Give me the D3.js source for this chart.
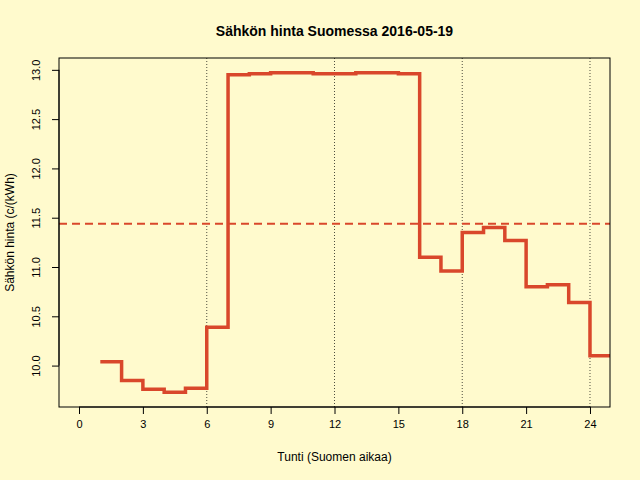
<!DOCTYPE html>
<html><head><meta charset="utf-8">
<script src="https://cdn.jsdelivr.net/npm/d3@7"></script>
<style>body{margin:0;background:#fffacd}</style></head>
<body><script>
const hours=[1,2,3,4,5,6,7,8,9,10,11,12,13,14,15,16,17,18,19,20,21,22,23,24];
const prices=[10.04,9.85,9.76,9.73,9.77,10.39,12.95,12.96,12.97,12.97,12.96,12.96,12.97,12.97,12.96,11.10,10.96,11.35,11.40,11.27,10.80,10.82,10.64,10.10];
const meanPrice=11.44;
const xTicks=[0,3,6,9,12,15,18,21,24];
const yTicks=[10.0,10.5,11.0,11.5,12.0,12.5,13.0];
const vLines=[6,12,18,24];
const W=640,H=480,L=59,R=610,T=58,B=407;
const svg=d3.select("body").append("svg").attr("width",W).attr("height",H).style("background","#fffacd");
const x=d3.scaleLinear().domain([-0.94,24.94]).range([L,R]);
const y=d3.scaleLinear().domain([9.58,13.12]).range([B,T]);
const f="Liberation Sans, Arial, sans-serif";
svg.append("text").attr("x",(L+R)/2).attr("y",36).attr("text-anchor","middle").attr("font-family",f).attr("font-size",14).attr("font-weight","bold").text("Sähkön hinta Suomessa 2016-05-19");
const clip=svg.append("clipPath").attr("id","c").append("rect").attr("x",L).attr("y",T).attr("width",R-L).attr("height",B-T);
const g=svg.append("g").attr("clip-path","url(#c)");
vLines.forEach(v=>g.append("line").attr("x1",x(v)).attr("x2",x(v)).attr("y1",T).attr("y2",B).attr("stroke","#000").attr("stroke-width",0.7).attr("stroke-dasharray","1,2"));
g.append("line").attr("x1",L).attr("x2",R).attr("y1",y(meanPrice)).attr("y2",y(meanPrice)).attr("stroke","#d9472b").attr("stroke-width",2).attr("stroke-dasharray","8,5");
const pts=hours.map((h,i)=>[h,prices[i]]);pts.push([25,prices[prices.length-1]]);
g.append("path").datum(pts).attr("d",d3.line().x(d=>x(d[0])).y(d=>y(d[1])).curve(d3.curveStepAfter)).attr("fill","none").attr("stroke","#d9472b").attr("stroke-width",3.5);
svg.append("rect").attr("x",L).attr("y",T).attr("width",R-L).attr("height",B-T).attr("fill","none").attr("stroke","#000");
const xa=svg.append("g").attr("transform",`translate(0,${B})`).call(d3.axisBottom(x).tickValues(xTicks).tickSize(7).tickPadding(6).tickFormat(d3.format("d")));
xa.select(".domain").attr("d",`M${x(0)},0H${x(24)}`);
const ya=svg.append("g").attr("transform",`translate(${L},0)`).call(d3.axisLeft(y).tickValues(yTicks).tickSize(7).tickPadding(5).tickFormat(d3.format(".1f")));
ya.select(".domain").attr("d",`M0,${y(10)}V${y(13)}`);
ya.selectAll("text").attr("transform",function(){const t=d3.select(this);return `rotate(-90,${t.attr("x")},0)`}).attr("text-anchor","middle").attr("dy","-0.6em").attr("dx",0);
svg.selectAll(".tick text").attr("font-family",f).attr("font-size",11).attr("fill","#000");
svg.append("text").attr("x",(L+R)/2).attr("y",461).attr("text-anchor","middle").attr("font-family",f).attr("font-size",12).text("Tunti (Suomen aikaa)");
svg.append("text").attr("transform",`translate(14,${(T+B)/2}) rotate(-90)`).attr("text-anchor","middle").attr("font-family",f).attr("font-size",12).text("Sähkön hinta (c/(kWh)");
</script></body></html>
